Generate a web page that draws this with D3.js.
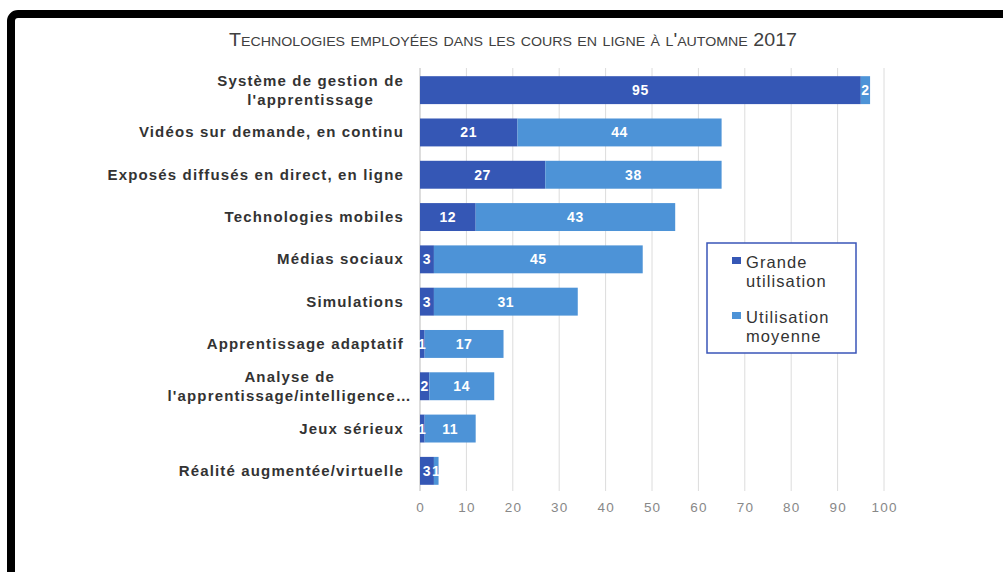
<!DOCTYPE html>
<html>
<head>
<meta charset="utf-8">
<script src="https://cdn.jsdelivr.net/npm/d3@7"></script>
<style>
  body { margin: 0; background: #fff; }
  svg { display: block; font-family: "Liberation Sans", Arial, sans-serif; }
  .cat { font-weight: bold; font-size: 15px; fill: #333; letter-spacing: 1.15px; }
  .val { font-weight: bold; font-size: 14px; fill: #fff; letter-spacing: 0.6px; }
  .tick-label { font-size: 13.5px; fill: #888; letter-spacing: 1.2px; }
  .legend-text { font-size: 16.5px; fill: #333; letter-spacing: 1.1px; }
</style>
</head>
<body>
<div id="graph"></div>
<script>
// categories, top to bottom
var categories = [
  "Système de gestion de|l'apprentissage",
  "Vidéos sur demande, en continu",
  "Exposés diffusés en direct, en ligne",
  "Technologies mobiles",
  "Médias sociaux",
  "Simulations",
  "Apprentissage adaptatif",
  "Analyse de|l'apprentissage/intelligence…",
  "Jeux sérieux",
  "Réalité augmentée/virtuelle"
];
var grandeUtilisation  = [95, 21, 27, 12, 3, 3, 1, 2, 1, 3];
var utilisationMoyenne = [2, 44, 38, 43, 45, 31, 17, 14, 11, 1];
var seriesNames = ["Grande|utilisation", "Utilisation|moyenne"];
var xTicks = [0, 10, 20, 30, 40, 50, 60, 70, 80, 90, 100];
var title = "Technologies employées dans les cours en ligne à l'automne 2017";

var colors = ["#3557b5", "#4d93d7"];

var svg = d3.select("#graph").append("svg")
  .attr("width", 1003)
  .attr("height", 572);

// black frame of the screenshot
svg.append("rect")
  .attr("x", 11).attr("y", 14)
  .attr("width", 1100).attr("height", 700)
  .attr("rx", 7)
  .attr("fill", "none")
  .attr("stroke", "#000")
  .attr("stroke-width", 8);

// title in small caps
svg.append("text")
  .attr("x", 513).attr("y", 46)
  .attr("text-anchor", "middle")
  .attr("font-size", 18)
  .attr("fill", "#404040")
  .style("font-variant", "small-caps")
  .attr("textLength", 568)
  .attr("lengthAdjust", "spacingAndGlyphs")
  .text(title);

var x = d3.scaleLinear().domain([0, 100]).range([420, 884]);
var y = d3.scaleBand().domain(d3.range(categories.length))
  .range([69, 492]).paddingInner(0.34).paddingOuter(0.17);

//vertical grid lines
svg.append("g").selectAll("line")
  .data(xTicks)
  .enter().append("line")
    .attr("x1", function(d) { return x(d); })
    .attr("x2", function(d) { return x(d); })
    .attr("y1", 68).attr("y2", 491)
    .attr("stroke", function(d) { return d === 0 ? "#bbb" : "#dcdcdc"; })
    .attr("stroke-width", 1);

//tick labels
svg.append("g").selectAll("text")
  .data(xTicks)
  .enter().append("text")
    .attr("class", "tick-label")
    .attr("x", function(d) { return x(d) + 0.6; })
    .attr("y", 512)
    .attr("text-anchor", "middle")
    .text(function(d) { return d; });

// stacked data
var rows = categories.map(function(c, i) {
  return [
    {i: i, s: 0, x0: 0, x1: grandeUtilisation[i], v: grandeUtilisation[i]},
    {i: i, s: 1, x0: grandeUtilisation[i], x1: grandeUtilisation[i] + utilisationMoyenne[i], v: utilisationMoyenne[i]}
  ];
});
var segs = [].concat.apply([], rows);

svg.append("g").selectAll("rect")
  .data(segs)
  .enter().append("rect")
    .attr("x", function(d) { return x(d.x0); })
    .attr("y", function(d) { return y(d.i); })
    .attr("width", function(d) { return x(d.x1) - x(d.x0); })
    .attr("height", y.bandwidth())
    .attr("fill", function(d) { return colors[d.s]; });

svg.append("g").selectAll("text")
  .data(segs)
  .enter().append("text")
    .attr("class", "val")
    .attr("x", function(d) { return (x(d.x0) + x(d.x1)) / 2; })
    .attr("y", function(d) { return y(d.i) + y.bandwidth() / 2 + 5; })
    .attr("text-anchor", "middle")
    .text(function(d) { return d.v; });

// category labels (two-line ones are centred on each other, block right-aligned)
var catG = svg.append("g");
categories.forEach(function(c, i) {
  var lines = c.split("|");
  var cy = y(i) + y.bandwidth() / 2;
  if (lines.length === 1) {
    catG.append("text")
      .attr("class", "cat")
      .attr("x", 404).attr("y", cy + 5)
      .attr("text-anchor", "end")
      .text(c);
  } else {
    var t = catG.append("text")
      .attr("class", "cat")
      .attr("text-anchor", "middle");
    var spans = lines.map(function(l, k) {
      return t.append("tspan")
        .attr("y", cy - 4 + k * 19)
        .text(l);
    });
    var w = d3.max(spans, function(s) { return s.node().getComputedTextLength(); });
    var right = i === 7 ? 412 : 404;
    spans.forEach(function(s) { s.attr("x", right - w / 2); });
  }
});

// legend
var lg = svg.append("g");
lg.append("rect")
  .attr("x", 707).attr("y", 243)
  .attr("width", 149).attr("height", 110)
  .attr("fill", "#fff")
  .attr("stroke", "#3a55b8")
  .attr("stroke-width", 1.5);
seriesNames.forEach(function(n, k) {
  var top = 263 + k * 55;
  lg.append("rect")
    .attr("x", 732).attr("y", top - 6)
    .attr("width", 9).attr("height", 7)
    .attr("fill", colors[k]);
  var t = lg.append("text").attr("class", "legend-text");
  n.split("|").forEach(function(l, j) {
    t.append("tspan")
      .attr("x", 746)
      .attr("y", top + 5 + j * 19)
      .text(l);
  });
});
</script>
</body>
</html>
